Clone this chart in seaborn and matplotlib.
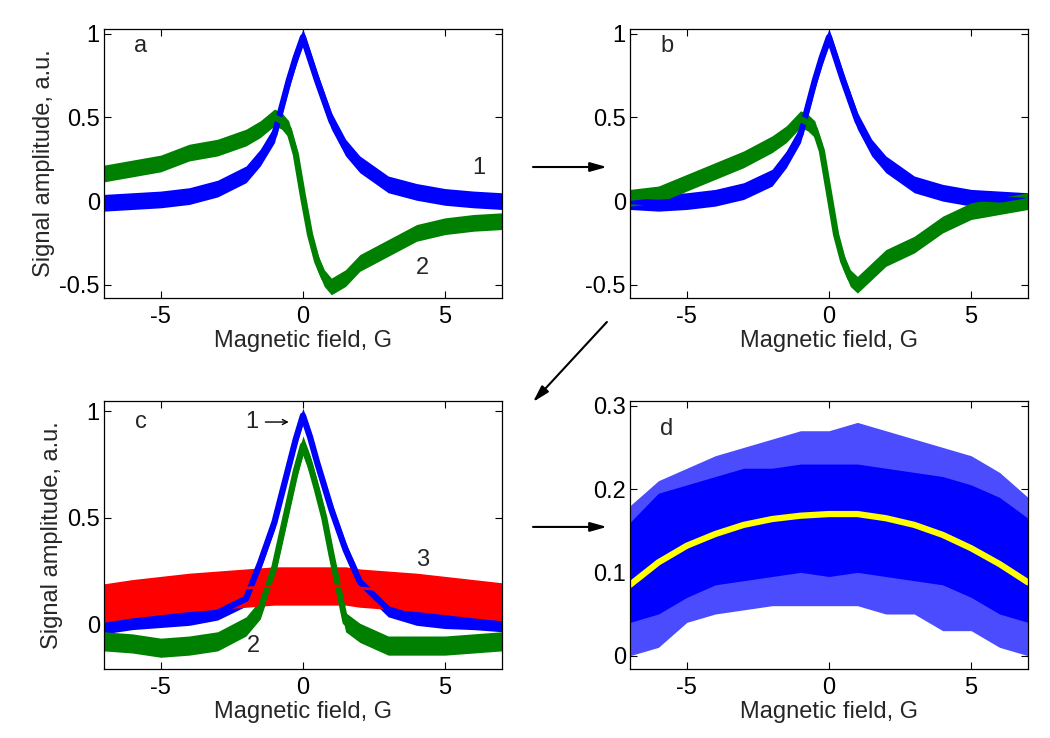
import numpy as np
import pandas as pd
import matplotlib
matplotlib.use("Agg")
import matplotlib.pyplot as plt
import seaborn as sns

sns.set_style("ticks")
plt.rcParams['font.family'] = ['Liberation Sans', 'DejaVu Sans']

BLUE = (0, 0, 1)
GREEN = (0, 0.5, 0)
RED = (1, 0, 0)
YELLOW = (1, 1, 0)

# ---- data ----
field = [-7, -6, -5, -4, -3, -2, -1.5, -1, -0.75, -0.5, -0.25, 0, 0.25, 0.5,
         0.75, 1, 1.5, 2, 3, 4, 5, 6, 7]

a_curve1 = [-0.01, 0.0, 0.01, 0.03, 0.075, 0.16, 0.26, 0.40, 0.56, 0.72, 0.86, 0.98,
            0.85, 0.72, 0.60, 0.48, 0.32, 0.22, 0.10, 0.055, 0.025, 0.01, 0.0]
a_curve2 = [0.165, 0.195, 0.225, 0.29, 0.32, 0.38, 0.43, 0.50, 0.48, 0.43, 0.28, 0.03,
            -0.20, -0.36, -0.46, -0.51, -0.46, -0.37, -0.28, -0.19, -0.15, -0.13, -0.12]

b_curve1 = [0.0, -0.01, 0.0, 0.02, 0.06, 0.14, 0.25, 0.40, 0.56, 0.72, 0.86, 0.98,
            0.85, 0.72, 0.60, 0.48, 0.32, 0.22, 0.10, 0.05, 0.02, 0.01, 0.0]
b_curve2 = [0.02, 0.04, 0.11, 0.18, 0.25, 0.34, 0.40, 0.49, 0.47, 0.43, 0.30, 0.05,
            -0.20, -0.36, -0.46, -0.50, -0.42, -0.34, -0.26, -0.14, -0.06, -0.03, 0.0]

c_curve1 = [-0.01, 0.01, 0.02, 0.03, 0.055, 0.12, 0.29, 0.48, 0.61, 0.74, 0.87, 0.98,
            0.88, 0.76, 0.65, 0.54, 0.35, 0.20, 0.07, 0.03, 0.015, 0.01, 0.0]
c_curve2 = [-0.08, -0.09, -0.11, -0.10, -0.08, -0.01, 0.07, 0.27, 0.42, 0.57, 0.72, 0.84,
            0.75, 0.63, 0.50, 0.33, 0.01, -0.04, -0.10, -0.10, -0.10, -0.09, -0.08]
c_curve3 = [0.10, 0.12, 0.135, 0.15, 0.16, 0.17, 0.175, 0.18, 0.18, 0.18, 0.18, 0.18,
            0.18, 0.18, 0.18, 0.18, 0.18, 0.17, 0.16, 0.15, 0.135, 0.12, 0.105]

field_d = [-7, -6, -5, -4, -3, -2, -1, 0, 1, 2, 3, 4, 5, 6, 7]
d_fit = [0.085, 0.112, 0.132, 0.146, 0.157, 0.164, 0.168, 0.170, 0.170, 0.165,
         0.157, 0.145, 0.129, 0.110, 0.088]
d_core_hi = [0.16, 0.195, 0.205, 0.215, 0.225, 0.225, 0.23, 0.23, 0.23, 0.225, 0.22,
             0.215, 0.205, 0.19, 0.165]
d_core_lo = [0.04, 0.05, 0.07, 0.085, 0.09, 0.095, 0.10, 0.095, 0.10, 0.095, 0.09,
             0.085, 0.07, 0.05, 0.04]
d_peak_hi = [0.18, 0.21, 0.225, 0.24, 0.25, 0.26, 0.27, 0.27, 0.28, 0.27, 0.26,
             0.25, 0.24, 0.22, 0.19]
d_peak_lo = [0.0, 0.01, 0.04, 0.05, 0.055, 0.06, 0.06, 0.06, 0.06, 0.05, 0.05,
             0.03, 0.03, 0.01, 0.0]

# noise half-widths of each trace
noise_a = [0.05, 0.05]
noise_c = [0.035, 0.045, 0.09]

FS = 17

fig = plt.figure(figsize=(10.5, 7.38), dpi=100)
ax_a = fig.add_axes([0.099, 0.596, 0.379, 0.365])
ax_b = fig.add_axes([0.600, 0.596, 0.379, 0.365])
ax_c = fig.add_axes([0.099, 0.0935, 0.379, 0.3635])
ax_d = fig.add_axes([0.600, 0.0935, 0.379, 0.3635])


def trace(ax, x, y, hw, color, lw=4.5):
    x = np.asarray(x, float)
    y = np.asarray(y, float)
    ax.fill_between(x, y - hw, y + hw, color=color, lw=0)
    sns.lineplot(x=x, y=y, ax=ax, color=color, lw=lw, estimator=None)


trace(ax_a, field, a_curve1, noise_a[0], BLUE)
trace(ax_a, field, a_curve2, noise_a[1], GREEN)
trace(ax_b, field, b_curve1, noise_a[0], BLUE)
trace(ax_b, field, b_curve2, noise_a[1], GREEN)
trace(ax_c, field, c_curve1, noise_c[0], BLUE)
trace(ax_c, field, c_curve2, noise_c[1], GREEN)
trace(ax_c, field, c_curve3, noise_c[2], RED, lw=2)

ax_d.fill_between(field_d, d_peak_lo, d_peak_hi, color=BLUE, alpha=0.7, lw=0)
ax_d.fill_between(field_d, d_core_lo, d_core_hi, color=BLUE, lw=0)
sns.lineplot(x=field_d, y=d_fit, ax=ax_d, color=YELLOW, lw=4.5, estimator=None)

for ax in (ax_a, ax_b, ax_c, ax_d):
    ax.set_xlim(-7, 7)
    ax.set_xticks([-5, 0, 5])
    ax.set_xticklabels(['-5', '0', '5'])
    ax.tick_params(direction='in', top=True, right=True, length=5, width=0.8,
                   labelsize=FS, colors='black')
    ax.tick_params(axis='x', pad=6)
    ax.tick_params(axis='y', pad=3)
    for s in ax.spines.values():
        s.set_visible(True)
        s.set_linewidth(0.9)
        s.set_color('black')
    ax.set_xlabel('Magnetic field, G', fontsize=FS, labelpad=1)
    ax.set_ylabel('')

for ax in (ax_a, ax_b):
    ax.set_ylim(-0.58, 1.03)
    ax.set_yticks([-0.5, 0, 0.5, 1])
    ax.set_yticklabels(['-0.5', '0', '0.5', '1'])
ax_c.set_ylim(-0.21, 1.05)
ax_c.set_yticks([0, 0.5, 1])
ax_c.set_yticklabels(['0', '0.5', '1'])
ax_d.set_ylim(-0.016, 0.306)
ax_d.set_yticks([0, 0.1, 0.2, 0.3])
ax_d.set_yticklabels(['0', '0.1', '0.2', '0.3'])

ax_a.set_ylabel('Signal amplitude, a.u.', fontsize=FS, labelpad=3)
ax_c.set_ylabel('Signal amplitude, a.u.', fontsize=FS, labelpad=3)

# panel annotations
ax_a.text(-5.7, 0.93, 'a', fontsize=FS, ha='center', va='center')
ax_a.text(6.2, 0.2, '1', fontsize=FS, ha='center', va='center')
ax_a.text(4.2, -0.4, '2', fontsize=FS, ha='center', va='center')
ax_b.text(-5.7, 0.93, 'b', fontsize=FS, ha='center', va='center')
ax_c.text(-5.7, 0.95, 'c', fontsize=FS, ha='center', va='center')
ax_c.text(-1.8, 0.95, '1', fontsize=FS, ha='center', va='center')
ax_c.annotate('', xy=(-0.5, 0.95), xytext=(-1.32, 0.95),
              arrowprops=dict(arrowstyle='->,head_length=0.35,head_width=0.18',
                              color='black', lw=1.0, shrinkA=0, shrinkB=0))
ax_c.text(-1.75, -0.1, '2', fontsize=FS, ha='center', va='center')
ax_c.text(4.2, 0.3, '3', fontsize=FS, ha='center', va='center')
ax_d.text(-5.7, 0.272, 'd', fontsize=FS, ha='center', va='center')

# arrows between panels
ap = dict(arrowstyle='-|>,head_length=1.0,head_width=0.28', color='black', lw=1.5,
          shrinkA=0, shrinkB=0)
for (x0, y0), (x1, y1) in [((0.5076, 0.7737), (0.578, 0.7737)),
                           ((0.578, 0.5637), (0.5076, 0.4553)),
                           ((0.5076, 0.286), (0.578, 0.286))]:
    fig.add_artist(plt.Annotation('', xy=(x1, y1), xytext=(x0, y0),
                                  xycoords='figure fraction',
                                  textcoords='figure fraction', arrowprops=ap))

fig.savefig('out.png', dpi=100, facecolor='white')
